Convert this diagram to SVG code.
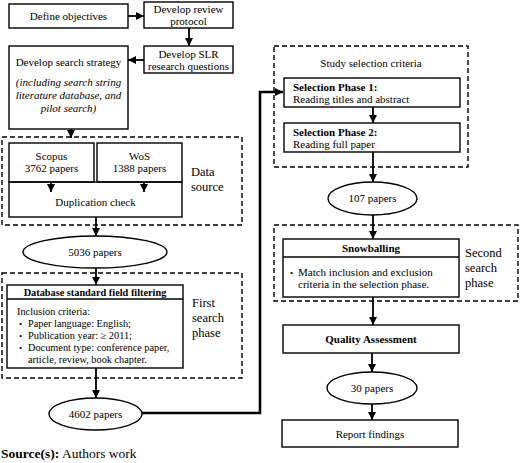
<svg xmlns="http://www.w3.org/2000/svg" width="520" height="463" viewBox="0 0 520 463" font-family="Liberation Serif, serif">
<defs>
<marker id="ah" markerUnits="userSpaceOnUse" markerWidth="8" markerHeight="8" refX="8" refY="4" orient="auto">
<path d="M0,0 L8,4 L0,8 z" fill="#000"/>
</marker>
<style>
text{font-size:11px;fill:#000}
.c{text-anchor:middle}
.b{font-weight:bold}
.i{font-style:italic}
.sm{font-size:10.3px}
.lg{font-size:12.5px}
.box{fill:#fff;stroke:#000;stroke-width:1.4}
.dash{fill:none;stroke:#000;stroke-width:1.4;stroke-dasharray:5,3}
.ar{fill:none;stroke:#000;stroke-width:1.8;marker-end:url(#ah)}
</style>
</defs>
<rect width="520" height="463" fill="#fff"/>
<g id="groups">
<rect id="data-source-group" class="dash" x="2" y="137" width="240" height="88"/>
<rect id="first-search-group" class="dash" x="2" y="273" width="240" height="105"/>
<rect id="study-selection-group" class="dash" x="274" y="46" width="194" height="121"/>
<rect id="second-search-group" class="dash" x="274" y="225" width="244" height="76"/>
</g>
<g id="connectors">
<line class="ar" x1="128" y1="16" x2="144" y2="16"/>
<line class="ar" x1="189" y1="28" x2="189" y2="46"/>
<line class="ar" x1="144" y1="60" x2="128" y2="60"/>
<line class="ar" x1="71" y1="129" x2="71" y2="138"/>
<line class="ar" x1="51" y1="182" x2="51" y2="192"/>
<line class="ar" x1="144" y1="182" x2="144" y2="192"/>
<line class="ar" x1="96" y1="217" x2="96" y2="236"/>
<line class="ar" x1="96" y1="268" x2="96" y2="285"/>
<line class="ar" x1="96" y1="368" x2="96" y2="398"/>
<polyline class="ar" style="stroke-width:2.6" points="142,413 260,413 260,92 283,92"/>
<line class="ar" x1="373" y1="107" x2="373" y2="123"/>
<line class="ar" x1="373" y1="152" x2="373" y2="182"/>
<line class="ar" x1="373" y1="215" x2="373" y2="239"/>
<line class="ar" x1="373" y1="297" x2="373" y2="325"/>
<line class="ar" x1="372" y1="353" x2="372" y2="372"/>
<line class="ar" x1="372" y1="404" x2="372" y2="420"/>
</g>
<g id="define-objectives">
<rect class="box" x="9" y="4" width="119" height="24"/>
<text class="c" x="68.5" y="20">Define objectives</text>
</g>
<g id="review-protocol">
<rect class="box" x="144" y="2" width="89" height="26"/>
<text class="c" x="188.5" y="13">Develop review</text>
<text class="c" x="188.5" y="25">protocol</text>
</g>
<g id="slr-questions">
<rect class="box" x="144" y="46" width="89" height="27"/>
<text class="c" x="188.5" y="58">Develop SLR</text>
<text class="c" x="188.5" y="70">research questions</text>
</g>
<g id="search-strategy">
<rect class="box" x="9" y="46" width="119" height="83"/>
<text class="c" x="68.5" y="66">Develop search strategy</text>
<text class="c i" x="68.5" y="86">(including search string</text>
<text class="c i" x="68.5" y="99">literature database, and</text>
<text class="c i" x="68.5" y="112">pilot search)</text>
</g>
<g id="scopus">
<rect class="box" x="9" y="143" width="85" height="39"/>
<text class="c" x="51.5" y="160">Scopus</text>
<text class="c" x="51.5" y="172">3762 papers</text>
</g>
<g id="wos">
<rect class="box" x="97" y="143" width="85" height="39"/>
<text class="c" x="139.5" y="160">WoS</text>
<text class="c" x="139.5" y="172">1388 papers</text>
</g>
<g id="duplication-check">
<rect class="box" x="9" y="182" width="173" height="35" style="fill:none"/>
<text class="c" x="95.5" y="206">Duplication check</text>
</g>
<g id="data-source-label">
<text class="lg" x="191" y="176">Data</text>
<text class="lg" x="191" y="191">source</text>
</g>
<g id="papers-5036">
<ellipse class="box" cx="95" cy="252" rx="72" ry="16"/>
<text class="c" x="95" y="256">5036 papers</text>
</g>
<g id="db-filtering">
<rect class="box" x="7" y="285" width="176" height="83"/>
<line x1="7" y1="299" x2="183" y2="299" stroke="#000" stroke-width="1.4"/>
<text class="c b" x="95" y="296" style="font-size:10.3px">Database standard field filtering</text>
<text class="sm" x="17" y="315">Inclusion criteria:</text>
<text x="19" y="327" style="font-size:9px">•</text>
<text class="sm" x="28" y="327">Paper language: English;</text>
<text x="19" y="339" style="font-size:9px">•</text>
<text class="sm" x="28" y="339">Publication year: ≥ 2011;</text>
<text x="19" y="351" style="font-size:9px">•</text>
<text class="sm" x="28" y="351">Document type: conference paper,</text>
<text class="sm" x="28" y="363">article, review, book chapter.</text>
</g>
<g id="first-search-label">
<text class="lg" x="192" y="307">First</text>
<text class="lg" x="192" y="322">search</text>
<text class="lg" x="192" y="337">phase</text>
</g>
<g id="papers-4602">
<ellipse class="box" cx="95.5" cy="414" rx="46.5" ry="16"/>
<text class="c" x="95.5" y="418">4602 papers</text>
</g>
<g id="study-selection-label">
<text class="c" x="371" y="67">Study selection criteria</text>
</g>
<g id="selection-phase-1">
<rect class="box" x="284" y="78" width="176" height="29"/>
<text class="b" x="293" y="91">Selection Phase 1:</text>
<text x="293" y="103">Reading titles and abstract</text>
</g>
<g id="selection-phase-2">
<rect class="box" x="284" y="123" width="176" height="29"/>
<text class="b" x="293" y="136">Selection Phase 2:</text>
<text x="293" y="148">Reading full paper</text>
</g>
<g id="papers-107">
<ellipse class="box" cx="372.5" cy="198.5" rx="44.5" ry="16.5"/>
<text class="c" x="372.5" y="202">107 papers</text>
</g>
<g id="snowballing">
<rect class="box" x="283" y="239" width="176" height="58"/>
<line x1="283" y1="257" x2="459" y2="257" stroke="#000" stroke-width="1.4"/>
<text class="c b" x="371" y="252">Snowballing</text>
<text x="290" y="276" style="font-size:9px">•</text>
<text x="298" y="276">Match inclusion and exclusion</text>
<text x="298" y="288">criteria in the selection phase.</text>
</g>
<g id="second-search-label">
<text class="lg" x="465" y="257">Second</text>
<text class="lg" x="465" y="272">search</text>
<text class="lg" x="465" y="287">phase</text>
</g>
<g id="quality-assessment">
<rect class="box" x="283" y="325" width="176" height="28"/>
<text class="c b" x="371" y="343">Quality Assessment</text>
</g>
<g id="papers-30">
<ellipse class="box" cx="372" cy="388" rx="45" ry="16"/>
<text class="c" x="372" y="392">30 papers</text>
</g>
<g id="report-findings">
<rect class="box" x="282" y="420" width="176" height="27"/>
<text class="c" x="370" y="438">Report findings</text>
</g>
<g id="source-note">
<text x="1" y="458" style="font-size:13.5px"><tspan font-weight="bold">Source(s):</tspan> Authors work</text>
</g>
</svg>
